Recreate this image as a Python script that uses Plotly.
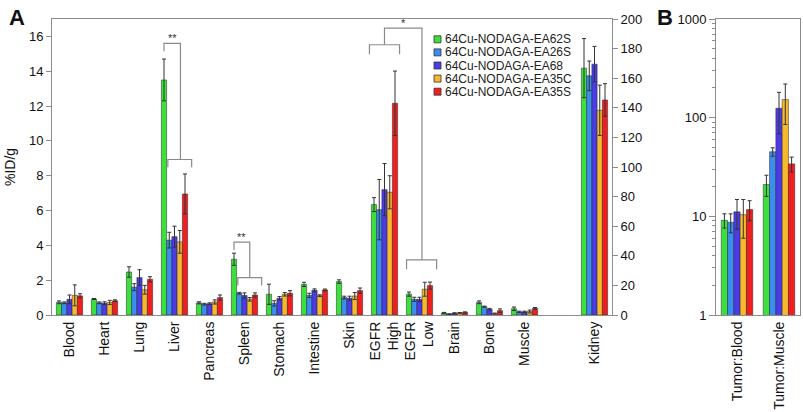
import plotly.graph_objects as go

# ---------------- data ----------------
organs = ["Blood", "Heart", "Lung", "Liver", "Pancreas", "Spleen", "Stomach",
          "Intestine", "Skin", "EGFR<br>High", "EGFR<br>Low", "Brain", "Bone", "Muscle"]
kidney_label = "Kidney"

series_names = ["64Cu-NODAGA-EA62S", "64Cu-NODAGA-EA26S", "64Cu-NODAGA-EA68",
                "64Cu-NODAGA-EA35C", "64Cu-NODAGA-EA35S"]

ea62s = [0.73, 0.92, 2.47, 13.5, 0.70, 3.20, 1.19, 1.76, 1.92, 6.34, 1.20, 0.12, 0.73, 0.36]
ea62s_err = [0.08, 0.03, 0.30, 1.20, 0.06, 0.35, 0.58, 0.12, 0.10, 0.40, 0.12, 0.03, 0.08, 0.10]
ea26s = [0.70, 0.70, 1.60, 4.30, 0.62, 1.25, 0.67, 1.13, 1.00, 6.05, 0.90, 0.05, 0.48, 0.18]
ea26s_err = [0.05, 0.05, 0.20, 0.45, 0.05, 0.05, 0.15, 0.12, 0.08, 1.73, 0.12, 0.02, 0.03, 0.04]
ea68 = [0.90, 0.68, 2.15, 4.50, 0.65, 1.12, 0.96, 1.42, 0.96, 7.20, 0.90, 0.10, 0.33, 0.18]
ea68_err = [0.25, 0.08, 0.45, 0.60, 0.05, 0.15, 0.10, 0.08, 0.12, 1.50, 0.12, 0.03, 0.05, 0.04]
ea35c = [1.13, 0.72, 1.45, 4.20, 0.75, 0.90, 1.19, 1.11, 1.09, 7.05, 1.48, 0.12, 0.08, 0.20]
ea35c_err = [0.60, 0.12, 0.25, 0.65, 0.12, 0.10, 0.10, 0.05, 0.20, 0.95, 0.40, 0.02, 0.03, 0.08]
ea35s = [1.10, 0.82, 2.05, 6.95, 1.00, 1.15, 1.25, 1.44, 1.40, 12.16, 1.69, 0.15, 0.25, 0.38]
ea35s_err = [0.12, 0.05, 0.15, 1.15, 0.15, 0.12, 0.15, 0.05, 0.15, 1.85, 0.20, 0.03, 0.10, 0.05]

kidney = [166.8, 161.6, 169.5, 138.3, 145.3]
kidney_err = [20.0, 10.0, 12.0, 17.0, 11.0]

ratio_cats = ["Tumor:Blood", "Tumor:Muscle"]
tumor_blood = [9.1, 8.7, 11.1, 10.4, 11.7]
tumor_blood_err = [1.5, 1.9, 3.7, 4.4, 2.7]
tumor_muscle = [21.0, 45.1, 124.5, 152.4, 34.0]
tumor_muscle_err = [5.1, 4.4, 56.0, 67.0, 5.8]

left_ticks = [0, 2, 4, 6, 8, 10, 12, 14, 16]
right_ticks = [0, 20, 40, 60, 80, 100, 120, 140, 160, 180, 200]
log_ticks = [1, 10, 100, 1000]

# ---------------- style ----------------
colors = ["#3CE03C", "#3A8EF0", "#4B3CE6", "#F7B82D", "#F01E1E"]
FONT = "Liberation Sans, Arial, sans-serif"
AX = "#8c8c8c"
W, H = 803, 412
ML, MR, MT, MB = 52, 3, 19, 97
PW, PH = W - ML - MR, H - MT - MB
BARGAP = 0.25

def px_x(px):
    return (px - ML) / PW

def px_y(py):
    return (H - MB - py) / PH

series_vals = [ea62s, ea26s, ea68, ea35c, ea35s]
series_errs = [ea62s_err, ea26s_err, ea68_err, ea35c_err, ea35s_err]

n_org = len(organs)
x_org = list(range(n_org))
x_kid = n_org + 1  # one empty slot before kidney

fig = go.Figure()
bar_line = dict(color="rgba(40,40,40,0.85)", width=0.6)
err_style = dict(type="data", color="#333333", thickness=1, width=2)

for i, name in enumerate(series_names):
    fig.add_trace(go.Bar(
        x=x_org, y=series_vals[i], name=name, marker_color=colors[i], marker_line=bar_line,
        error_y=dict(array=series_errs[i], **err_style),
        xaxis="x", yaxis="y", offsetgroup=str(i), alignmentgroup="A", showlegend=False))
for i, name in enumerate(series_names):
    fig.add_trace(go.Bar(
        x=[x_kid], y=[kidney[i]], name=name, marker_color=colors[i], marker_line=bar_line,
        error_y=dict(array=[kidney_err[i]], **err_style),
        xaxis="x", yaxis="y2", offsetgroup=str(i), alignmentgroup="A", showlegend=False))
for i, name in enumerate(series_names):
    vals = [tumor_blood[i], tumor_muscle[i]]
    errs = [tumor_blood_err[i], tumor_muscle_err[i]]
    fig.add_trace(go.Bar(
        x=ratio_cats, y=vals, name=name, marker_color=colors[i], marker_line=bar_line,
        error_y=dict(array=errs, arrayminus=errs, **err_style),
        xaxis="x2", yaxis="y3", offsetgroup=str(i), alignmentgroup="B", showlegend=False))

# ---------------- significance brackets ----------------
gw = 1 - BARGAP
green_off = -gw / 2 + gw / 10
tick = 0.45
bx, by = [], []

def seg(pts):
    for p in pts:
        bx.append(p[0]); by.append(p[1])
    bx.append(None); by.append(None)

stars = []
for cat, top, low, vx in [(3, 15.6, 8.93, 0.17), (5, 4.19, 2.15, 0.15)]:
    c = cat
    seg([(c + green_off, top - tick), (c + green_off, top), (c + vx, top), (c + vx, low)])
    seg([(c - 0.19, low - tick), (c - 0.19, low), (c + 0.49, low), (c + 0.49, low - tick)])
    stars.append(((c + green_off + c + vx) / 2, top, "**"))

hi, lo = 9, 10
seg([(hi - 0.43, 14.98), (hi - 0.43, 15.52), (hi + 0.43, 15.52), (hi + 0.43, 14.98)])
seg([(hi, 15.52), (hi, 16.48), (lo + 0.07, 16.48), (lo + 0.07, 3.17)])
seg([(lo - 0.37, 2.63), (lo - 0.37, 3.17), (lo + 0.49, 3.17), (lo + 0.49, 2.63)])
stars.append(((hi + lo + 0.07) / 2, 16.48, "*"))

fig.add_trace(go.Scatter(x=bx, y=by, mode="lines", line=dict(color="#8a8a8a", width=1.2),
                         xaxis="x", yaxis="y", hoverinfo="skip", showlegend=False))

annotations = []
for sx, sy, s in stars:
    annotations.append(dict(x=sx, y=sy, xref="x", yref="y", text=s, showarrow=False,
                            yanchor="bottom", yshift=-3, font=dict(size=11, color="#333", family=FONT)))

# ---------------- custom legend ----------------
shapes = []
for i, name in enumerate(series_names):
    cy = 39.3 + 13.1 * i
    shapes.append(dict(type="rect", xref="paper", yref="paper",
                       x0=px_x(434), x1=px_x(441), y0=px_y(cy + 3.5), y1=px_y(cy - 3.5),
                       fillcolor=colors[i], line=dict(color="#333", width=0.8)))
    annotations.append(dict(x=px_x(443), y=px_y(cy), xref="paper", yref="paper", text=name,
                            showarrow=False, xanchor="left", yanchor="middle",
                            font=dict(size=12, color="#222", family=FONT)))

annotations.append(dict(x=px_x(7), y=px_y(3), xref="paper", yref="paper", text="<b>A</b>",
                        showarrow=False, xanchor="left", yanchor="top",
                        font=dict(size=22, color="#111", family=FONT)))
annotations.append(dict(x=px_x(655), y=px_y(3), xref="paper", yref="paper", text="<b>B</b>",
                        showarrow=False, xanchor="left", yanchor="top",
                        font=dict(size=22, color="#111", family=FONT)))

split_a = px_x(612)
split_b = px_x(716)

tickfont = dict(size=13, color="#111", family=FONT)
xfont = dict(size=14, color="#111", family=FONT)

minor_vals = [k * 10 ** e for e in range(3) for k in range(2, 10)]

fig.update_layout(
    width=W, height=H, margin=dict(l=ML, r=MR, t=MT, b=MB, autoexpand=False),
    plot_bgcolor="white", paper_bgcolor="white",
    barmode="group", bargap=BARGAP, bargroupgap=0,
    font=dict(family=FONT, color="#111"),
    showlegend=False,
    xaxis=dict(domain=[0, split_a], range=[-0.5, n_org + 1.5], anchor="y",
               tickvals=x_org + [x_kid], ticktext=organs + [kidney_label], tickangle=-90,
               showline=True, linecolor=AX, linewidth=1, mirror=True, ticks="",
               showgrid=False, zeroline=False, tickfont=xfont, automargin=False),
    yaxis=dict(range=[0, 17], tickvals=left_ticks, anchor="x",
               title=dict(text="%ID/g", font=dict(size=14, color="#111", family=FONT), standoff=10),
               showline=True, linecolor=AX, linewidth=1, ticks="outside", ticklen=5,
               tickcolor=AX, showgrid=False, zeroline=False, tickfont=tickfont, automargin=False),
    yaxis2=dict(range=[0, 200], tickvals=right_ticks, overlaying="y", side="right", anchor="x",
                showline=True, linecolor=AX, linewidth=1, ticks="outside", ticklen=5,
                tickcolor=AX, showgrid=False, zeroline=False, tickfont=tickfont),
    xaxis2=dict(domain=[split_b, 1], anchor="y3", showline=True, linecolor=AX, linewidth=1,
                mirror=True, ticks="", tickangle=-90, showgrid=False, tickfont=xfont,
                range=[-0.5, 1.5], automargin=False),
    yaxis3=dict(type="log", range=[0, 3], anchor="x2", tickvals=log_ticks,
                ticktext=[str(v) for v in log_ticks],
                showline=True, linecolor=AX, linewidth=1, mirror=True, ticks="outside",
                ticklen=6, tickcolor=AX, showgrid=False, zeroline=False, tickfont=tickfont,
                minor=dict(tickvals=minor_vals, ticks="outside", ticklen=3, tickcolor=AX,
                           showgrid=False)),
    shapes=shapes, annotations=annotations,
)

fig.write_html("out.html", config={"displayModeBar": False},
               post_script="document.body.style.margin='0';document.body.style.padding='0';")
